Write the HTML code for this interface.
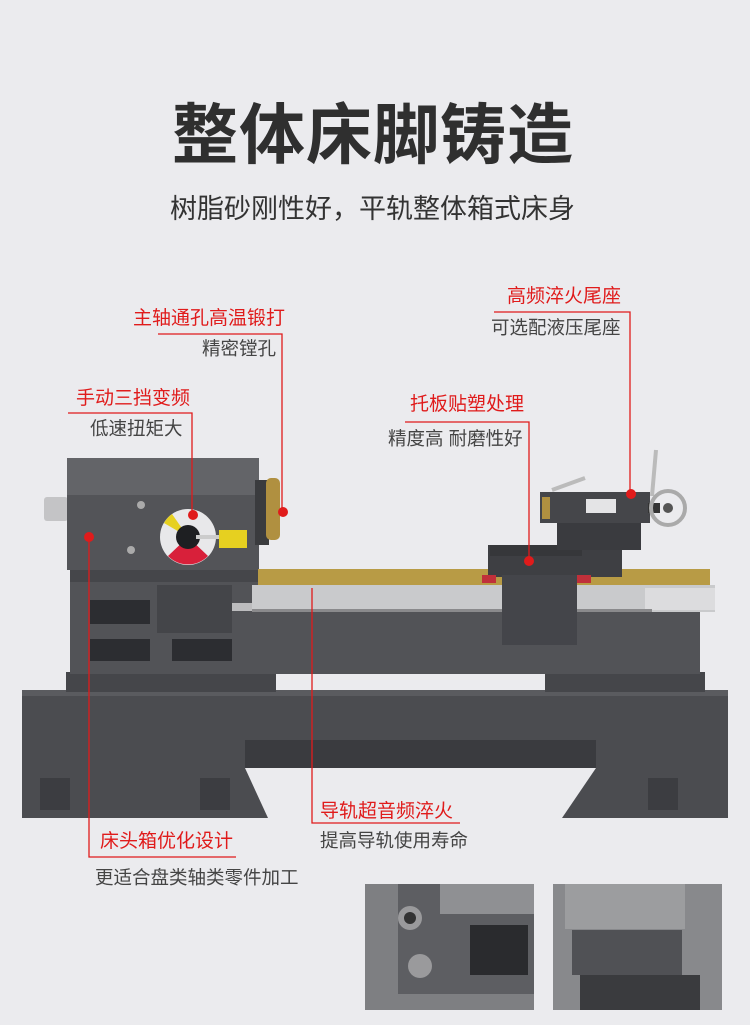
<!DOCTYPE html>
<html><head><meta charset="utf-8"><style>
html,body{margin:0;padding:0}
body{width:750px;height:1025px;background:#ebebee;position:relative;overflow:hidden;font-family:"Liberation Sans","Noto Sans CJK SC",sans-serif}
.t{position:absolute;white-space:nowrap;line-height:1}
.r{color:#e01b1b;font-size:19px}
.g{color:#444;font-size:18.5px}
</style></head><body>
<svg width="750" height="1025" style="position:absolute;left:0;top:0">
<!-- base -->
<rect x="22" y="690" width="706" height="128" fill="#4b4c50"/>
<rect x="245" y="740" width="351" height="28" fill="#3a3b3f"/>
<polygon points="245,768 596,768 562,818 268,818" fill="#ebebee"/>
<rect x="22" y="690" width="706" height="6" fill="#5a5b5f"/>
<rect x="40" y="778" width="30" height="32" fill="#3c3d41"/>
<rect x="200" y="778" width="30" height="32" fill="#3c3d41"/>
<rect x="648" y="778" width="30" height="32" fill="#3c3d41"/>
<!-- bed feet -->
<rect x="66" y="672" width="210" height="20" fill="#45464a"/>
<rect x="545" y="672" width="160" height="20" fill="#45464a"/>
<!-- bed body -->
<rect x="70" y="570" width="630" height="104" fill="#525357"/>
<rect x="90" y="600" width="60" height="24" fill="#2c2d31"/>
<rect x="90" y="639" width="60" height="22" fill="#2c2d31"/>
<rect x="172" y="639" width="60" height="22" fill="#2c2d31"/>
<!-- spindle stub -->
<rect x="44" y="497" width="24" height="24" rx="3" fill="#c4c4c6"/>
<!-- headstock -->
<rect x="67" y="458" width="192" height="112" fill="#535458"/>
<rect x="67" y="458" width="192" height="37" fill="#636468"/>
<rect x="70" y="570" width="190" height="12" fill="#45464a"/>
<rect x="255" y="480" width="14" height="65" fill="#3a3b3e"/>
<rect x="266" y="478" width="14" height="62" rx="5" fill="#b09040"/>
<circle cx="141" cy="505" r="4" fill="#aaa"/><circle cx="131" cy="550" r="4" fill="#aaa"/>
<circle cx="188" cy="537" r="28" fill="#e8e8ea"/>
<path d="M168,556 A28,28 0 0 0 208,556 L188,537 Z" fill="#d8203a"/>
<path d="M164,523 A28,28 0 0 1 172,514 L188,537 Z" fill="#e6d020"/>
<circle cx="188" cy="537" r="12" fill="#1e1f22"/>
<rect x="196" y="535" width="26" height="4" fill="#ccc"/>
<rect x="219" y="530" width="28" height="18" fill="#e6d020"/>
<!-- left apron box -->
<rect x="157" y="585" width="75" height="48" fill="#444549"/>
<rect x="232" y="603" width="30" height="8" fill="#bcbcbe"/>
<!-- rail & cover -->
<rect x="258" y="569" width="452" height="16" fill="#b89b45"/>
<rect x="252" y="585" width="463" height="27" fill="#c9cacc"/>
<rect x="645" y="588" width="70" height="22" fill="#dcdcde"/>
<rect x="252" y="609" width="400" height="3" fill="#8a8a8c"/>
<!-- carriage -->
<rect x="488" y="545" width="134" height="32" fill="#3e3f43"/>
<rect x="490" y="545" width="92" height="11" fill="#36373a"/>
<rect x="502" y="575" width="75" height="70" fill="#44454a"/>
<rect x="482" y="575" width="14" height="8" fill="#c0303a"/>
<rect x="577" y="575" width="14" height="8" fill="#c0303a"/>
<!-- tailstock -->
<rect x="557" y="522" width="84" height="28" fill="#3a3b3f"/>
<rect x="540" y="492" width="110" height="31" fill="#45464a"/>
<rect x="542" y="497" width="8" height="22" fill="#b09040"/>
<rect x="586" y="499" width="30" height="14" fill="#e4e4e6"/>
<line x1="552" y1="490" x2="585" y2="478" stroke="#bbb" stroke-width="4"/>
<line x1="652" y1="496" x2="656" y2="450" stroke="#bbb" stroke-width="4"/>
<rect x="648" y="503" width="12" height="10" fill="#333"/>
<circle cx="668" cy="508" r="17" fill="none" stroke="#aaa" stroke-width="4"/>
<circle cx="668" cy="508" r="5" fill="#555"/>
<!-- thumbnails -->
<rect x="365" y="884" width="169" height="126" fill="#7e7f82"/>
<rect x="398" y="884" width="136" height="110" fill="#5d5e62"/>
<rect x="440" y="884" width="94" height="30" fill="#8f9093"/>
<circle cx="410" cy="918" r="12" fill="#9a9a9c"/><circle cx="410" cy="918" r="6" fill="#333"/>
<circle cx="420" cy="966" r="12" fill="#9a9a9c"/>
<rect x="470" y="925" width="58" height="50" fill="#2a2b2e"/>
<rect x="553" y="884" width="169" height="126" fill="#88898c"/>
<rect x="565" y="884" width="120" height="45" fill="#9c9d9f"/>
<rect x="572" y="930" width="110" height="45" fill="#505155"/>
<rect x="580" y="975" width="120" height="35" fill="#3a3b3e"/>
<!-- callout lines -->
<g stroke="#e01b1b" stroke-width="1.3" fill="none">
<polyline points="158,334 282,334 282,512"/>
<polyline points="68,413 192,413 192,515"/>
<polyline points="405,422 529,422 529,561"/>
<polyline points="494,312 630,312 630,494"/>
<polyline points="89,537 89,857 236,857"/>
<polyline points="312,588 312,823 460,823"/>
</g>
<g fill="#e01b1b">
<circle cx="283" cy="512" r="5"/><circle cx="193" cy="515" r="5"/>
<circle cx="529" cy="561" r="5"/><circle cx="631" cy="494" r="5"/>
<circle cx="89" cy="537" r="5"/>
</g>
</svg>
<div class="t" style="left:172px;top:102px;font-size:66px;font-weight:bold;color:#2f2f2f;letter-spacing:1px">整体床脚铸造</div>
<div class="t" style="left:170px;top:196px;font-size:27px;color:#333">树脂砂刚性好，平轨整体箱式床身</div>
<div class="t r" style="left:133px;top:309px">主轴通孔高温锻打</div>
<div class="t g" style="left:202px;top:340px">精密镗孔</div>
<div class="t r" style="left:76px;top:389px">手动三挡变频</div>
<div class="t g" style="left:90px;top:420px">低速扭矩大</div>
<div class="t r" style="left:410px;top:395px">托板贴塑处理</div>
<div class="t g" style="left:388px;top:430px">精度高 耐磨性好</div>
<div class="t r" style="left:507px;top:287px">高频淬火尾座</div>
<div class="t g" style="left:491px;top:319px">可选配液压尾座</div>
<div class="t r" style="left:100px;top:832px">床头箱优化设计</div>
<div class="t g" style="left:95px;top:869px">更适合盘类轴类零件加工</div>
<div class="t r" style="left:320px;top:802px">导轨超音频淬火</div>
<div class="t g" style="left:320px;top:832px">提高导轨使用寿命</div>
</body></html>
